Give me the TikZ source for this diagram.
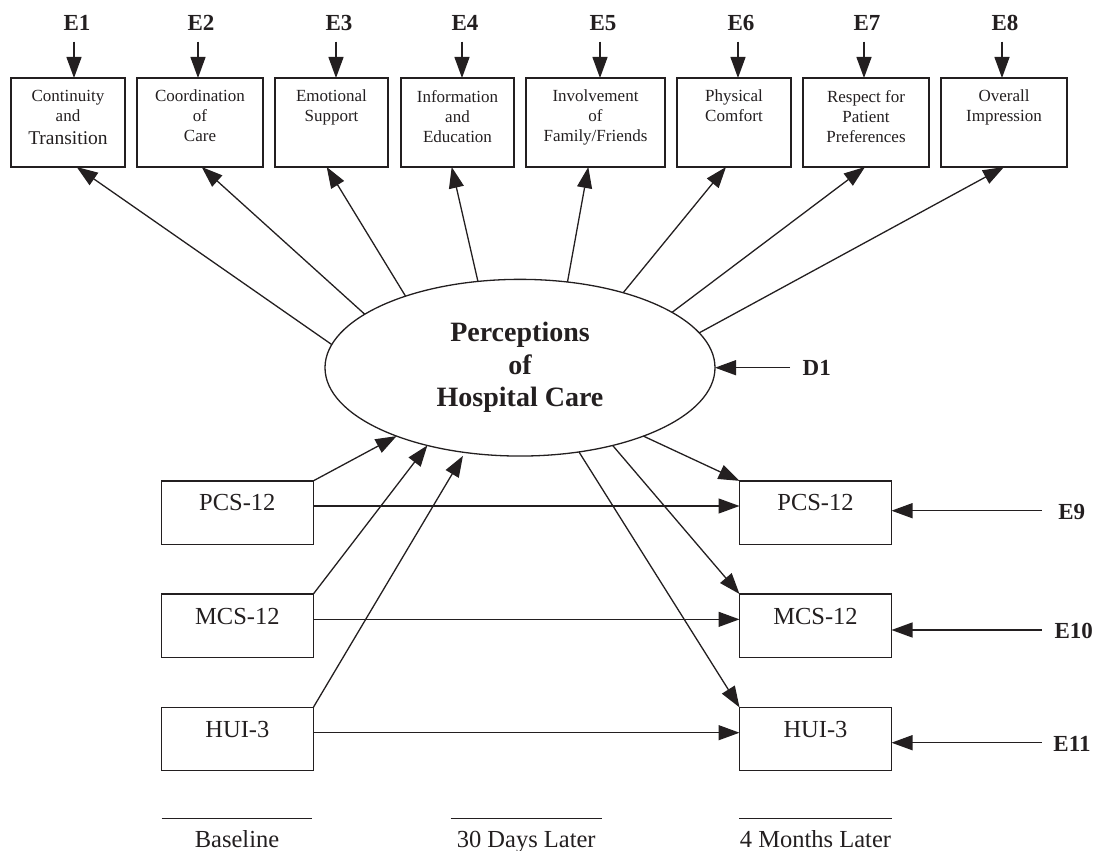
\documentclass[tikz,border=0pt]{standalone}
\usepackage{fontspec}
\setmainfont{Liberation Serif}
\usetikzlibrary{arrows.meta,shapes.geometric}
\definecolor{ink}{HTML}{231F20}
\begin{document}
\begin{tikzpicture}[x=1pt,y=-1pt,
  arr/.style={draw=ink, line width=1.3pt, -{Triangle[length=21pt,width=15pt]}},
  topbox/.style={rectangle, draw=ink, line width=1.3pt, minimum height=89pt, inner sep=0pt, outer sep=0pt},
  toptext/.style={font=\fontsize{17}{20}\selectfont, align=center, anchor=north, inner sep=0pt, text=ink},
  obsbox/.style={rectangle, draw=ink, line width=1.3pt, minimum width=152pt, minimum height=63.3pt, inner sep=0pt, outer sep=0pt},
  obstext/.style={font=\fontsize{24.5}{28}\selectfont, anchor=base, inner sep=0pt, text=ink},
  elab/.style={font=\bfseries\fontsize{23}{26}\selectfont, anchor=base, inner sep=0pt, text=ink},
  latent/.style={ellipse, draw=ink, line width=1.3pt, minimum width=390pt, minimum height=176.7pt, inner sep=0pt, outer sep=0pt, align=center, text=ink, font=\bfseries\fontsize{28}{32.5}\selectfont},
  rule/.style={draw=ink, line width=1.1pt},
  timelab/.style={font=\fontsize{24.5}{28}\selectfont, anchor=base, inner sep=0pt, text=ink}
]
\useasboundingbox (0,0) rectangle (1096,851);

% ---- top indicator boxes ----
\node[topbox, minimum width=114pt] (b1) at (68,122.5) {};
\node[topbox, minimum width=126pt] (b2) at (200,122.5) {};
\node[topbox, minimum width=113pt] (b3) at (331.5,122.5) {};
\node[topbox, minimum width=113pt] (b4) at (457.5,122.5) {};
\node[topbox, minimum width=139pt] (b5) at (595.5,122.5) {};
\node[topbox, minimum width=114pt] (b6) at (734,122.5) {};
\node[topbox, minimum width=126pt] (b7) at (866,122.5) {};
\node[topbox, minimum width=126pt] (b8) at (1004,122.5) {};

\node[toptext] (t1) at ([yshift=-12pt]b1.north) {Continuity\\and\\[3pt]{\fontsize{19.5}{20}\selectfont Transition}};
\node[toptext] (t2) at ([yshift=-12pt]b2.north) {Coordination\\of\\Care};
\node[toptext] (t3) at ([yshift=-12pt]b3.north) {Emotional\\Support};
\node[toptext] (t4) at ([yshift=-12pt]b4.north) {Information\\and\\Education};
\node[toptext] (t5) at ([yshift=-12pt]b5.north) {Involvement\\of\\Family/Friends};
\node[toptext] (t6) at ([yshift=-12pt]b6.north) {Physical\\Comfort};
\node[toptext] (t7) at ([yshift=-12pt]b7.north) {Respect for\\Patient\\Preferences};
\node[toptext] (t8) at ([yshift=-12pt]b8.north) {Overall\\Impression};

% ---- error terms E1-E8 ----
\node[elab] (e1) at (77,31) {E1};
\node[elab] (e2) at (201,31) {E2};
\node[elab] (e3) at (339,31) {E3};
\node[elab] (e4) at (465,31) {E4};
\node[elab] (e5) at (603,31) {E5};
\node[elab] (e6) at (741,31) {E6};
\node[elab] (e7) at (867,31) {E7};
\node[elab] (e8) at (1005,31) {E8};

\coordinate (s1) at (74,41.7);
\coordinate (s2) at (198,41.7);
\coordinate (s3) at (336,41.7);
\coordinate (s4) at (462,41.7);
\coordinate (s5) at (600,41.7);
\coordinate (s6) at (738,41.7);
\coordinate (s7) at (864,41.7);
\coordinate (s8) at (1002,41.7);
\draw[arr] (s1) -- (s1 |- b1.north);
\draw[arr] (s2) -- (s2 |- b2.north);
\draw[arr] (s3) -- (s3 |- b3.north);
\draw[arr] (s4) -- (s4 |- b4.north);
\draw[arr] (s5) -- (s5 |- b5.north);
\draw[arr] (s6) -- (s6 |- b6.north);
\draw[arr] (s7) -- (s7 |- b7.north);
\draw[arr] (s8) -- (s8 |- b8.north);

% ---- latent variable ----
\node[latent] (ell) at (520,367.7) {Perceptions\\of\\Hospital Care};

\draw[arr] (ell.173.2) -- ([xshift=8.7pt]b1.south);
\draw[arr] (ell.161.6) -- ([xshift=1.7pt]b2.south);
\draw[arr] (ell.148.7) -- ([xshift=-4.8pt]b3.south);
\draw[arr] (ell.116.9) -- ([xshift=-5.8pt]b4.south);
\draw[arr] (ell.61.9) -- ([xshift=-7.2pt]b5.south);
\draw[arr] (ell.36.3) -- ([xshift=-8pt]b6.south);
\draw[arr] (ell.20.3) -- ([xshift=-1pt]b7.south);
\draw[arr] (ell.11.1) -- (b8.south);

% ---- disturbance ----
\node[elab] (d1) at (816.7,375.7) {D1};
\coordinate (sd) at (790,367.7);
\draw[arr] (sd) -- (ell.east);

% ---- baseline boxes ----
\node[obsbox] (pcsL) at (237.35,512.5) {};
\node[obsbox] (mcsL) at (237.35,625.65) {};
\node[obsbox] (huiL) at (237.35,739) {};
\node[obstext] (pcsLt) at ([yshift=-30pt]pcsL.north) {PCS-12};
\node[obstext] (mcsLt) at ([yshift=-30pt]mcsL.north) {MCS-12};
\node[obstext] (huiLt) at ([yshift=-30pt]huiL.north) {HUI-3};

% ---- 4-month boxes ----
\node[obsbox] (pcsR) at (815.5,512.5) {};
\node[obsbox] (mcsR) at (815.5,625.65) {};
\node[obsbox] (huiR) at (815.5,739) {};
\node[obstext] (pcsRt) at ([yshift=-30pt]pcsR.north) {PCS-12};
\node[obstext] (mcsRt) at ([yshift=-30pt]mcsR.north) {MCS-12};
\node[obstext] (huiRt) at ([yshift=-30pt]huiR.north) {HUI-3};

% baseline -> latent
\draw[arr] (pcsL.north east) -- (ell.209.5);
\draw[arr] (mcsL.north east) -- (ell.220.4);
\draw[arr, shorten >=4pt] (huiL.north east) -- (ell.237.5);

% latent -> 4 months
\draw[arr] (ell.-29.6) -- (pcsR.north west);
\draw[arr] (ell.-40.7) -- (mcsR.north west);
\draw[arr] (ell.-55.4) -- (huiR.north west);

% baseline -> 4 months
\draw[arr] ([yshift=6.5pt]pcsL.east) -- ([yshift=6.5pt]pcsR.west);
\draw[arr] ([yshift=6.3pt]mcsL.east) -- ([yshift=6.3pt]mcsR.west);
\draw[arr] ([yshift=6.3pt]huiL.east) -- ([yshift=6.3pt]huiR.west);

% ---- error terms E9-E11 ----
\node[elab] (e9) at (1071.7,519.3) {E9};
\node[elab] (e10) at (1073.7,638.3) {E10};
\node[elab] (e11) at (1072,751) {E11};
\coordinate (s9) at (1041.7,510.7);
\coordinate (s10) at (1041.7,630);
\coordinate (s11) at (1041.7,742.7);
\draw[arr] (s9) -- (s9 -| pcsR.east);
\draw[arr] (s10) -- (s10 -| mcsR.east);
\draw[arr] (s11) -- (s11 -| huiR.east);

% ---- time labels ----
\draw[rule] (161.7,818.3) -- (312.3,818.3);
\draw[rule] (450.7,818.3) -- (601.7,818.3);
\draw[rule] (739.3,818.3) -- (891.7,818.3);
\node[timelab] (tl1) at (237,847.3) {Baseline};
\node[timelab] (tl2) at (526.2,847.3) {30 Days Later};
\node[timelab] (tl3) at (815.5,847.3) {4 Months Later};
\end{tikzpicture}
\end{document}
